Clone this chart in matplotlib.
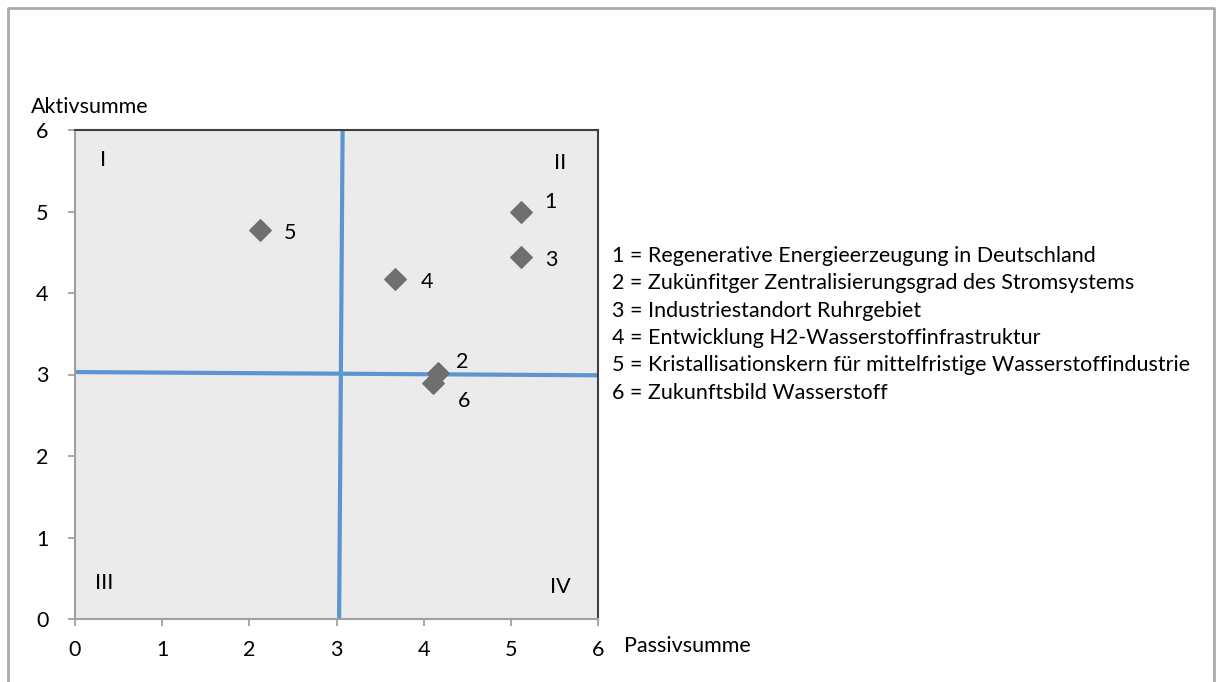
import matplotlib.pyplot as plt
from matplotlib.lines import Line2D

plt.rcParams['font.family'] = ['Lato', 'DejaVu Sans']

# Daten
labels = ['1', '2', '3', '4', '5', '6']
passiv = [5.12, 4.16, 5.12, 3.67, 2.12, 4.11]
aktiv = [5.0, 3.02, 4.44, 4.17, 4.77, 2.90]
# Versatz der Datenbeschriftungen (Punkte)
label_dx = [21, 18, 22, 23, 22, 22]
label_dy = [7, 8, -2, -2, -2, -13]

legend_lines = [
    '1 = Regenerative Energieerzeugung in Deutschland',
    '2 = Zukünfitger Zentralisierungsgrad des Stromsystems',
    '3 = Industriestandort Ruhrgebiet',
    '4 = Entwicklung H2-Wasserstoffinfrastruktur',
    '5 = Kristallisationskern für mittelfristige Wasserstoffindustrie',
    '6 = Zukunftsbild Wasserstoff',
]

quadrants = ['I', 'II', 'III', 'IV']
quad_x = [0.32, 5.56, 0.33, 5.57]
quad_y = [5.63, 5.60, 0.44, 0.39]

# Trennlinien (leicht schräg wie im Original)
vline_x = [3.07, 3.03]
vline_y = [6, 0]
hline_x = [0, 6]
hline_y = [3.03, 2.99]

fs = 15.5

fig = plt.figure(figsize=(12.16, 6.82), dpi=100)
ax = fig.add_axes([75 / 1216, 1 - 619 / 682, 523 / 1216, 489 / 682])
ax.set_facecolor('#ebebeb')

ax.plot(vline_x, vline_y, color='#5b96d2', lw=3, zorder=2)
ax.plot(hline_x, hline_y, color='#5b96d2', lw=3, zorder=2)

ax.scatter(passiv, aktiv, marker='D', s=120, color='#6f6f6f', zorder=3)
for lab, x, y, dx, dy in zip(labels, passiv, aktiv, label_dx, label_dy):
    ax.annotate(lab, (x, y), xytext=(dx, dy), textcoords='offset points',
                fontsize=fs, color='black', va='center', ha='center')

for q, x, y in zip(quadrants, quad_x, quad_y):
    ax.text(x, y, q, fontsize=fs, ha='center', va='center')

ax.set_xlim(0, 6)
ax.set_ylim(0, 6)
ax.set_xticks(range(7))
ax.set_yticks(range(7))
ax.tick_params(labelsize=fs, color='#999999', length=5, width=1.2)
ax.tick_params(axis='x', pad=10)
ax.tick_params(axis='y', pad=14)
for s in ['left', 'bottom']:
    ax.spines[s].set_color('#a0a0a0')
    ax.spines[s].set_linewidth(1.5)
for s in ['top', 'right']:
    ax.spines[s].set_color('#404040')
    ax.spines[s].set_linewidth(1.5)

fig.text(31 / 1216, 1 - 107 / 682, 'Aktivsumme', fontsize=fs, va='center', ha='left')
fig.text(624 / 1216, 1 - 646 / 682, 'Passivsumme', fontsize=fs, va='center', ha='left')

for i, line in enumerate(legend_lines):
    fig.text(612 / 1216, 1 - (256 + i * 27.3) / 682, line, fontsize=fs,
             va='center', ha='left')

# Rahmen um die Grafik (unten offen)
border_x = [8 / 1216, 8 / 1216, 1214 / 1216, 1214 / 1216]
border_y = [0, 1 - 8 / 682, 1 - 8 / 682, 0]
fig.add_artist(Line2D(border_x, border_y, color='#aaaaaa', lw=2))

fig.savefig('out.png', dpi=100)
